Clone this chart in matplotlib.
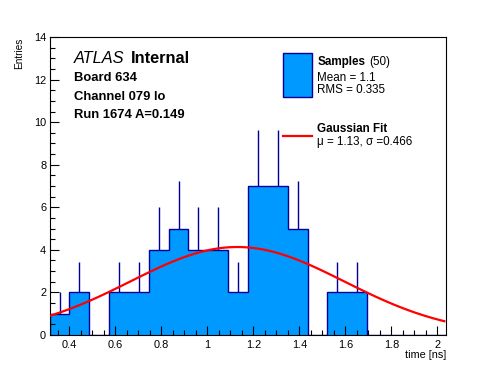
import numpy as np
import matplotlib
matplotlib.use('Agg')
import matplotlib.pyplot as plt
from matplotlib.patches import Rectangle
from matplotlib.lines import Line2D

plt.rcParams['font.family'] = ['Liberation Sans', 'DejaVu Sans']

# histogram of sample times
xmin, xmax, nbins = 0.314, 2.039, 20
counts = [1, 2, 0, 2, 2, 4, 5, 4, 4, 2, 7, 7, 5, 0, 2, 2, 0, 0, 0, 0]

# gaussian fit result
fit_amp = 4.13
fit_mu = 1.13
fit_sigma = 0.466

fill_col = '#0099ff'
edge_col = '#000099'

W, H = 496, 372
fig = plt.figure(figsize=(W / 100, H / 100), dpi=100)
ax = fig.add_axes([0.1, 0.1, 0.8, 0.8])
ax.set_axisbelow(False)

def fx(px):
    return px / W

def fy(py):
    return 1 - py / H

edges = np.linspace(xmin, xmax, nbins + 1)
centers = 0.5 * (edges[:-1] + edges[1:])
counts = np.array(counts, dtype=float)
errs = np.sqrt(counts)

nz = counts > 0
ax.vlines(centers[nz], counts[nz], counts[nz] + errs[nz], color=edge_col, lw=1.0, zorder=1)
ax.stairs(counts, edges, fill=True, color=fill_col, zorder=1.2)
ax.stairs(counts, edges, color=edge_col, lw=1.0, zorder=1.4)

xf = np.linspace(xmin, 2.03, 100)
yf = fit_amp * np.exp(-0.5 * ((xf - fit_mu) / fit_sigma) ** 2)
ax.plot(xf, yf, color='#ff0000', lw=1.6, zorder=3)

ax.set_xlim(xmin, xmax)
ax.set_ylim(0, 14)
ax.set_xticks(np.arange(0.4, 2.01, 0.2))
ax.set_xticklabels(['0.4', '0.6', '0.8', '1', '1.2', '1.4', '1.6', '1.8', '2'])
ax.set_xticks(np.arange(0.35, 2.04, 0.05), minor=True)
ax.set_yticks(np.arange(0, 15, 2))
ax.set_yticks(np.arange(0, 14.01, 0.5), minor=True)
ax.tick_params(which='both', direction='in', top=False, right=False, labelsize=7.9, width=0.8)
ax.tick_params(which='major', length=6.5)
ax.tick_params(which='minor', length=3.3)
ax.tick_params(axis='x', pad=3.5)
ax.tick_params(axis='y', pad=2.5)
for s in ax.spines.values():
    s.set_linewidth(0.8)

fig.text(fx(446), fy(358.3), 'time [ns]', ha='right', va='baseline', fontsize=7.8)
fig.text(fx(19), fy(37.5), 'Entries', rotation=90, ha='center', va='top', fontsize=7.2)

# labels inside the frame
fig.text(fx(74), fy(63.3), 'ATLAS', style='italic', fontsize=11.8, va='baseline')
fig.text(fx(130.5), fy(63.3), 'Internal', weight='bold', fontsize=11.8, va='baseline')
fig.text(fx(74), fy(81), 'Board 634', weight='bold', fontsize=9.4, va='baseline')
fig.text(fx(74), fy(100), 'Channel 079 lo', weight='bold', fontsize=9.4, va='baseline')
fig.text(fx(74), fy(118.3), 'Run 1674 A=0.149', weight='bold', fontsize=9.4, va='baseline')

# legend
fig.add_artist(Rectangle((fx(283.3), fy(96.7)), fx(311.7) - fx(283.3), fy(53.3) - fy(96.7),
                         transform=fig.transFigure, facecolor=fill_col, edgecolor=edge_col, lw=1.0))
fig.add_artist(Line2D([fx(283), fx(312)], [fy(135.7), fy(135.7)], transform=fig.transFigure,
                      color='#ff0000', lw=1.6))
fig.text(fx(317.3), fy(65), 'Samples', weight='bold', fontsize=8.4, va='baseline')
fig.text(fx(369.5), fy(65), '(50)', fontsize=8.4, va='baseline')
fig.text(fx(317.3), fy(81), 'Mean = 1.1', fontsize=8.4, va='baseline')
fig.text(fx(317.3), fy(93.3), 'RMS = 0.335', fontsize=8.4, va='baseline')
fig.text(fx(317.3), fy(132.3), 'Gaussian Fit', weight='bold', fontsize=8.4, va='baseline')
fig.text(fx(317.3), fy(145), 'μ = 1.13, σ =0.466', fontsize=8.4, va='baseline')

fig.savefig('out.png', dpi=100)
